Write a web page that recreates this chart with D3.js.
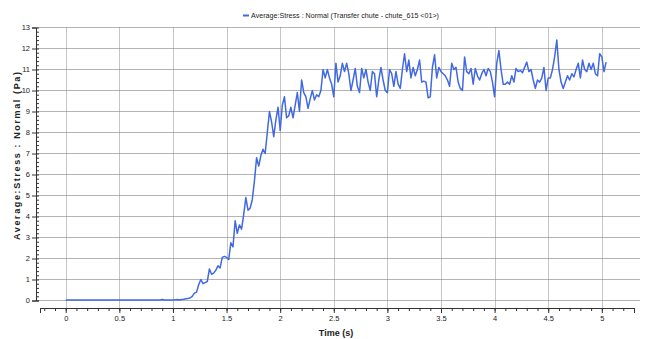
<!DOCTYPE html>
<html>
<head>
<meta charset="utf-8">
<script src="https://cdn.jsdelivr.net/npm/d3@7"></script>
<style>
  body { margin: 0; background: #fff; }
  svg { display: block; font-family: "Liberation Sans", "DejaVu Sans", sans-serif; }
</style>
</head>
<body>
<div id="chart"></div>
<script>
// series: one sample every 0.02 s, starting at t = 0
const timeStep = 0.02;
const seriesName = "Average:Stress : Normal (Transfer chute - chute_615 <01>)";
const stress = [
  // 0.00 - 0.48
  0.02, 0.02, 0.02, 0.02, 0.02, 0.02, 0.02, 0.02, 0.02, 0.02, 0.02, 0.02, 0.02, 0.02, 0.02, 0.02, 0.02, 0.02, 0.02, 0.02, 0.02, 0.02, 0.02, 0.02, 0.02,
  // 0.50 - 0.98
  0.02, 0.02, 0.02, 0.02, 0.02, 0.02, 0.02, 0.02, 0.02, 0.02, 0.02, 0.02, 0.02, 0.02, 0.02, 0.02, 0.02, 0.02, 0.02, 0.02, 0.05, 0.02, 0.02, 0.02, 0.02,
  // 1.00 - 1.48
  0.02, 0.03, 0.05, 0.02, 0.05, 0.06, 0.08, 0.1, 0.12, 0.2, 0.35, 0.4, 0.75, 1.0, 0.8, 0.85, 0.9, 1.5, 1.25, 1.3, 1.45, 1.65, 1.55, 2.05, 2.1,
  // 1.50 - 1.98
  2.05, 1.95, 2.75, 2.55, 3.8, 3.2, 3.6, 3.4, 4.1, 4.9, 4.3, 4.4, 4.8, 5.7, 6.8, 6.4, 6.9, 7.2, 7.0, 8.0, 9.0, 8.5, 7.8, 8.6, 9.2,
  // 2.00 - 2.48
  8.1, 9.3, 9.7, 8.7, 8.8, 9.2, 8.7, 9.3, 9.9, 9.0, 10.5, 9.9, 9.7, 9.15, 9.6, 10.0, 9.55, 9.8, 9.7, 10.0, 11.0, 10.6, 11.0, 10.6, 10.3,
  // 2.50 - 2.98
  9.7, 11.3, 10.4, 10.7, 11.3, 10.9, 11.3, 10.8, 10.0, 10.5, 11.05, 10.2, 9.9, 11.05, 10.6, 11.0, 10.4, 10.0, 10.9, 10.8, 9.7, 10.5, 11.1, 10.5, 10.0,
  // 3.00 - 3.48
  9.9, 11.0, 10.8, 10.2, 10.9, 10.3, 10.1, 11.0, 11.75, 10.9, 11.45, 10.6, 11.1, 10.7, 11.0, 11.45, 10.4, 10.45, 10.4, 9.65, 9.7, 11.1, 11.7, 10.6, 11.1,
  // 3.50 - 3.98
  10.9, 10.8, 10.7, 10.5, 10.2, 11.3, 11.0, 11.1, 10.4, 10.1, 10.0, 11.6, 10.9, 10.8, 11.05, 10.3, 11.05, 10.7, 10.5, 10.8, 11.0, 10.7, 11.05, 10.9, 10.4,
  // 4.00 - 4.48
  9.7, 11.3, 11.9, 11.0, 10.3, 10.3, 10.4, 10.3, 10.7, 10.4, 11.05, 10.9, 10.95, 10.85, 11.1, 11.35, 10.9, 11.0, 10.5, 10.1, 10.5, 10.4, 10.6, 11.1, 10.0,
  // 4.50 - 4.98
  10.6, 10.6, 11.0, 11.6, 12.4, 11.0, 10.4, 10.1, 10.4, 10.7, 10.5, 10.8, 10.65, 11.0, 11.3, 10.6, 11.45, 11.0, 10.9, 11.3, 11.0, 11.3, 10.8, 10.7, 11.75,
  // 5.00 - 5.04
  11.6, 10.9, 11.35
];

const xTickValues = [0, 0.5, 1, 1.5, 2, 2.5, 3, 3.5, 4, 4.5, 5];
const yTickValues = [0, 1, 2, 3, 4, 5, 6, 7, 8, 9, 10, 11, 12, 13];

const width = 651;
const height = 339;

const svg = d3.select("#chart").append("svg")
  .attr("width", width)
  .attr("height", height);

const x = d3.scaleLinear().domain([-0.24, 5.3]).range([40, 634]);
const y = d3.scaleLinear().domain([0, 13]).range([300.5, 27.5]);
const axisY = 308;
const axisX = 36;
const gridRight = 640;

// horizontal grid lines
svg.append("g")
  .selectAll("line")
  .data(yTickValues)
  .enter()
  .append("line")
  .attr("x1", axisX)
  .attr("x2", gridRight)
  .attr("y1", d => y(d))
  .attr("y2", d => y(d))
  .attr("stroke", "#b4b4b4")
  .attr("stroke-width", 1);

// vertical dotted grid lines
svg.append("g")
  .selectAll("line")
  .data(xTickValues)
  .enter()
  .append("line")
  .attr("x1", d => Math.round(x(d)) + 0.5)
  .attr("x2", d => Math.round(x(d)) + 0.5)
  .attr("y1", y(13))
  .attr("y2", axisY)
  .attr("stroke", "#8a8a8a")
  .attr("stroke-dasharray", "1,1");

// x axis: minor ticks every 0.1, labels every 0.5
const xMinor = x.ticks(55);
const gx = svg.append("g")
  .attr("transform", `translate(0, ${axisY})`);
gx.call(d3.axisBottom(x).tickValues(xMinor).tickSize(3).tickFormat(""));
gx.append("g").call(d3.axisBottom(x).tickValues(xTickValues).tickSize(5).tickFormat(d3.format("")));
gx.selectAll(".domain").attr("stroke", "#333");
gx.selectAll(".tick line").attr("stroke", "#333");
gx.selectAll("text")
  .attr("fill", "#222")
  .style("font-size", "7.5px");

// y axis: labels every 1, minor ticks every 0.2 on the inside
const yMinor = d3.range(0, 65).map(i => i / 5);
const gy = svg.append("g")
  .attr("transform", `translate(${axisX}, 0)`);
gy.call(d3.axisRight(y).tickValues(yMinor).tickSize(3).tickFormat(""));
gy.append("g").call(d3.axisLeft(y).tickValues(yTickValues).tickSize(4).tickPadding(2).tickFormat(d3.format("d")));
gy.selectAll(".domain").attr("stroke", "#333");
gy.selectAll(".tick line").attr("stroke", "#333");
gy.selectAll("text")
  .attr("fill", "#222")
  .style("font-size", "7.5px");

// data line
const line = d3.line()
  .x((d, i) => x(i * timeStep))
  .y(d => y(d));

svg.append("path")
  .datum(stress)
  .attr("fill", "none")
  .attr("stroke", "#4169e1")
  .attr("stroke-width", 1.5)
  .attr("stroke-linejoin", "round")
  .attr("d", line);

// legend at top
svg.append("line")
  .attr("x1", 243)
  .attr("x2", 249)
  .attr("y1", 15.5)
  .attr("y2", 15.5)
  .attr("stroke", "#4169e1")
  .attr("stroke-width", 2);

svg.append("text")
  .attr("x", 251)
  .attr("y", 18)
  .attr("textLength", 188)
  .attr("lengthAdjust", "spacingAndGlyphs")
  .style("font-size", "8px")
  .attr("fill", "#222")
  .text(seriesName);

// axis titles
svg.append("text")
  .attr("x", 336)
  .attr("y", 336)
  .attr("text-anchor", "middle")
  .style("font-size", "9px")
  .style("font-weight", "bold")
  .attr("fill", "#222")
  .text("Time (s)");

svg.append("text")
  .attr("transform", "translate(20, 156) rotate(-90)")
  .attr("text-anchor", "middle")
  .attr("textLength", 168)
  .attr("lengthAdjust", "spacing")
  .style("font-size", "9px")
  .style("font-weight", "bold")
  .attr("fill", "#222")
  .text("Average:Stress : Normal (Pa)");
</script>
</body>
</html>
